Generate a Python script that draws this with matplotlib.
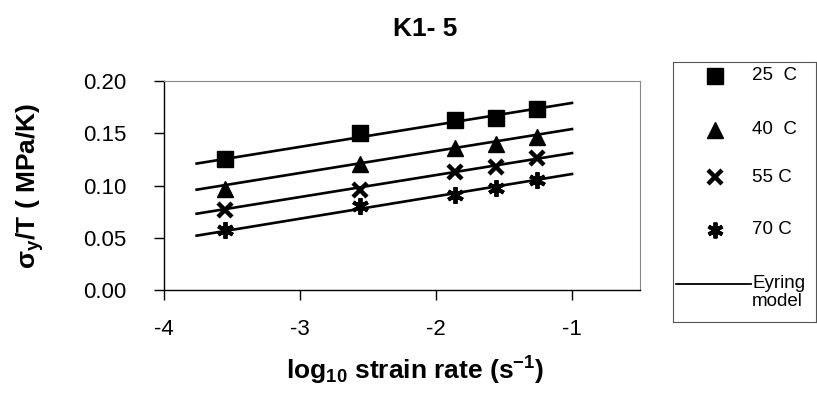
import matplotlib
matplotlib.use("Agg")
import matplotlib.pyplot as plt

plt.rcParams['font.family'] = ['Liberation Sans', 'DejaVu Sans']
plt.rcParams['mathtext.fontset'] = 'custom'
plt.rcParams['mathtext.rm'] = 'Liberation Sans'
plt.rcParams['mathtext.bf'] = 'Liberation Sans:bold'
plt.rcParams['mathtext.it'] = 'Liberation Sans:italic'

# data
log_rate = [-3.55, -2.56, -1.86, -1.56, -1.26]
s25 = [0.125, 0.150, 0.163, 0.165, 0.173]
s40 = [0.097, 0.121, 0.136, 0.140, 0.146]
s55 = [0.077, 0.096, 0.113, 0.118, 0.126]
s70 = [0.057, 0.080, 0.091, 0.098, 0.105]
series_labels = ['25  C', '40  C', '55 C', '70 C']

model_x = [-3.76, -1.0]
m25 = [0.121, 0.179]
m40 = [0.096, 0.154]
m55 = [0.073, 0.131]
m70 = [0.052, 0.111]

W, H = 817, 399
fig = plt.figure(figsize=(W / 100, H / 100), dpi=100)
ax = fig.add_axes([164 / W, 1 - 290 / H, 476 / W, 209 / H])

for m in (m25, m40, m55, m70):
    ax.plot(model_x, m, color='black', lw=1.9, zorder=2)

styles = [dict(marker='s', ms=11.5, mfc='black', mec='black'),
          dict(marker='^', ms=11.5, mfc='black', mec='black'),
          dict(marker='x', ms=10, mew=3.2, mec='black'),
          dict(marker=(6, 2, 0), ms=12, mew=2.8, mec='black')]
for ys, st in zip((s25, s40, s55, s70), styles):
    ax.plot(log_rate, ys, ls='none', zorder=3, **st)

ax.set_xlim(-4, -0.5)
ax.set_ylim(0, 0.20)
ax.set_xticks([-4, -3, -2, -1])
ax.set_xticklabels(['-4', '-3', '-2', '-1'])
ax.set_yticks([0, 0.05, 0.10, 0.15, 0.20])
ax.set_yticklabels(['0.00', '0.05', '0.10', '0.15', '0.20'])
ax.tick_params(axis='both', labelsize=16, length=7, width=1, direction='out')
ax.tick_params(axis='y', pad=20)
ax.tick_params(axis='x', pad=14)
for s in ('top', 'right'):
    ax.spines[s].set_color('#888888')
    ax.spines[s].set_linewidth(0.8)
for s in ('left', 'bottom'):
    ax.spines[s].set_color('black')
    ax.spines[s].set_linewidth(1.0)

ax.set_xlabel(r'log$_{\mathbf{10}}$ strain rate (s$^{\mathbf{-1}}$)', fontsize=19,
              fontweight='bold')
ax.xaxis.set_label_coords((415 - 164) / 476, (290 - 355) / 209)
ax.set_ylabel('σ$_{\\mathbf{y}}$/T ( MPa/K)', fontsize=19, fontweight='bold')
ax.yaxis.set_label_coords((46 - 164) / 476, 0.5)
fig.text(425 / W, 1 - 29 / H, 'K1- 5', fontsize=19, fontweight='bold', ha='center', va='center')

# legend box
lax = fig.add_axes([673 / W, 1 - 322 / H, 143 / W, 260 / H])
lax.set_xlim(0, 143)
lax.set_ylim(260, 0)
lax.set_xticks([])
lax.set_yticks([])
for s in lax.spines.values():
    s.set_color('#555555')
    s.set_linewidth(0.8)
rows = [14, 68, 115, 168]
for y, st, lab in zip(rows, styles, series_labels):
    st2 = dict(st)
    st2['ms'] = st['ms'] * 0.95
    lax.plot([42], [y], ls='none', **st2)
    lax.text(79, y, lab, fontsize=13.5, va='center', ha='left')
lax.plot([3, 78], [222, 222], color='black', lw=1.3)
lax.text(79, 222, 'Eyring', fontsize=13.5, va='center', ha='left')
lax.text(79, 240, 'model', fontsize=13.5, va='center', ha='left')

fig.savefig('out.png', dpi=100)
